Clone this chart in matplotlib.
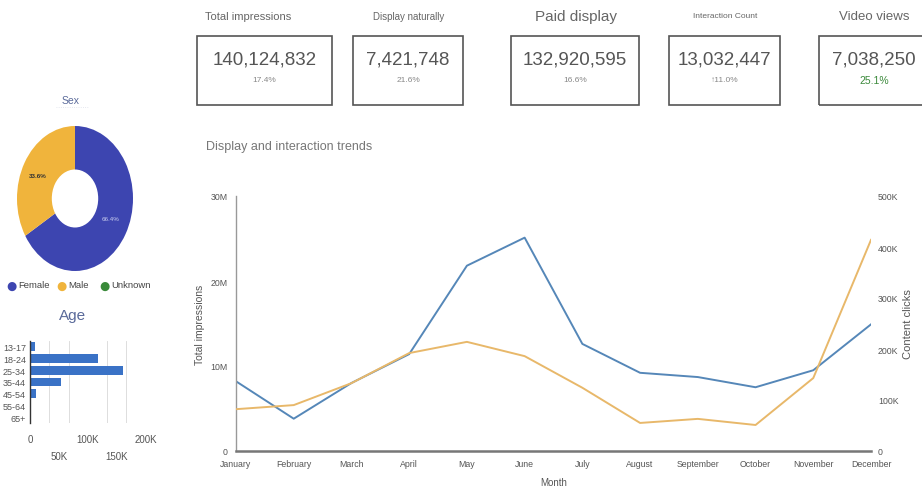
import numpy as np
import matplotlib
matplotlib.use("Agg")
import matplotlib.pyplot as plt
from matplotlib.patches import Rectangle
from matplotlib.ticker import FuncFormatter

plt.rcParams["font.family"] = ["Liberation Sans", "DejaVu Sans"]

# ---- data ----
kpi_titles = ["Total impressions", "Display naturally", "Paid display", "Interaction Count", "Video views"]
kpi_values = [140124832, 7421748, 132920595, 13032447, 7038250]
kpi_changes = [17.4, 21.6, 16.6, 11.0, 25.1]

sex_labels = ["Female", "Male", "Unknown"]
sex_share = [66.4, 33.6, 0.0]

age_groups = ["13-17", "18-24", "25-34", "35-44", "45-54", "55-64", "65+"]
age_counts = [9500, 118000, 161000, 54000, 10500, 2500, 1000]

months = ["January", "February", "March", "April", "May", "June", "July",
          "August", "September", "October", "November", "December"]
total_impressions = [8.2e6, 3.8e6, 8.0e6, 11.4e6, 21.8e6, 25.1e6, 12.6e6,
                     9.2e6, 8.7e6, 7.5e6, 9.5e6, 14.9e6]
content_clicks = [82e3, 90e3, 133e3, 192e3, 214e3, 186e3, 124e3,
                  55e3, 63e3, 51e3, 143e3, 414e3]

# ---- layout helpers (pixel boxes) ----
W, H = 922, 489
fig = plt.figure(figsize=(W / 100, H / 100), dpi=100)
fig.patch.set_facecolor("white")


def box(x0, y0, x1, y1):
    return [x0 / W, 1 - y1 / H, (x1 - x0) / W, (y1 - y0) / H]


def fx(x):
    return x / W


def fy(y):
    return 1 - y / H


GRAY = "#666666"

# ---- KPI cards ----
card_edges = [(197, 332), (353, 463), (511, 639), (669, 780), (819, 930)]
title_x = [248, 409, 576, 725, 874]
title_sizes = [8, 7, 11, 6, 9.5]
change_sizes = [6, 6, 6, 6, 7.5]
change_colors = ["#888888", "#888888", "#888888", "#888888", "#3c8a3c"]
for i, (x0, x1) in enumerate(card_edges):
    fig.add_artist(Rectangle((fx(x0), fy(106)), fx(x1 - x0), (106 - 37) / H,
                             transform=fig.transFigure, fill=False,
                             edgecolor="#555555", linewidth=1.2))
    cx = (x0 + x1) / 2 if i < 4 else 874
    fig.text(fx(title_x[i]), fy(17), kpi_titles[i], ha="center", va="center",
             fontsize=title_sizes[i], color=GRAY)
    fig.text(fx(cx), fy(60), f"{kpi_values[i]:,}", ha="center", va="center",
             fontsize=13.5, color="#555555")
    arrow = "\u2191" if i == 3 else ""
    fig.text(fx(cx), fy(81), f"{arrow}{kpi_changes[i]:.1f}%", ha="center",
             va="center", fontsize=change_sizes[i], color=change_colors[i])

# ---- Sex donut ----
fig.text(fx(71), fy(101), "Sex", ha="center", va="center", fontsize=7.5, color="#5a6a9a")
fig.add_artist(plt.Line2D([fx(56), fx(88)], [fy(108), fy(108)], transform=fig.transFigure,
                          color="#dde0ea", linewidth=0.6, linestyle=":"))
ax_pie = fig.add_axes(box(17, 127, 133, 272))
pie_colors = ["#3d45b0", "#f0b43c", "#3a8a3a"]
wedges, _ = ax_pie.pie(sex_share, colors=pie_colors, startangle=90, counterclock=False,
                       wedgeprops=dict(width=0.6, edgecolor="none"))
ax_pie.set_aspect("auto")
ax_pie.set_xlim(-1, 1)
ax_pie.set_ylim(-1, 1)
ax_pie.text(0.62, -0.28, f"{sex_share[0]:.1f}%", ha="center", va="center",
            fontsize=4.5, color="#c8ccee")
ax_pie.text(-0.65, 0.32, f"{sex_share[1]:.1f}%", ha="center", va="center",
            fontsize=4.5, color="#333333", fontweight="bold")

leg_x = [11, 61, 104]
for x, lab, c in zip(leg_x, sex_labels, pie_colors):
    fig.text(fx(x), fy(286), "\u25cf", ha="center", va="center", fontsize=8.5,
             color=c, family="DejaVu Sans")
    fig.text(fx(x + 7), fy(286), lab, ha="left", va="center", fontsize=6.8, color="#444444")

# ---- Age bars ----
fig.text(fx(73), fy(316), "Age", ha="center", va="center", fontsize=11, color="#5a6a9a")
ax_age = fig.add_axes(box(30, 342, 148, 424))
ypos = np.arange(len(age_groups))
ax_age.barh(ypos, age_counts, height=0.75, color="#3a72c6")
ax_age.set_ylim(len(age_groups) - 0.5, -0.5)
ax_age.set_xlim(0, 204000)
ax_age.set_xticks(np.arange(0, 200001, 200000 / 6), minor=True)
ax_age.grid(True, axis="x", which="minor", color="#d8d8d8", linewidth=0.6)
ax_age.set_axisbelow(True)
ax_age.set_xticks([0, 50000, 100000, 150000, 200000])
ax_age.set_xticklabels(["0", "\n50K", "100K", "\n150K", "200K"])
for lbl in ax_age.get_xticklabels():
    lbl.set_linespacing(1.9)
ax_age.set_yticks(ypos)
ax_age.set_yticklabels(age_groups)
ax_age.tick_params(axis="both", which="both", length=0, labelsize=6.5,
                   labelcolor="#555555", pad=3)
ax_age.tick_params(axis="x", pad=8, labelsize=7)
for s in ["top", "right", "bottom"]:
    ax_age.spines[s].set_visible(False)
ax_age.spines["left"].set_color("#333333")
ax_age.spines["left"].set_linewidth(1.0)

# ---- Trend lines ----
fig.text(fx(206), fy(147), "Display and interaction trends", ha="left", va="center",
         fontsize=9, color="#777777")
ax = fig.add_axes(box(236, 197, 871, 452))
x = np.arange(len(months))
ax.plot(x, total_impressions, color="#5587b8", linewidth=1.4)
ax.set_xlim(0, len(months) - 1)
ax.set_ylim(0, 30e6)
ax.set_yticks([0, 10e6, 20e6, 30e6])
ax.yaxis.set_major_formatter(FuncFormatter(lambda v, p: "0" if v == 0 else f"{v / 1e6:.0f}M"))
ax.set_xticks(x)
ax.set_xticklabels(months)
ax.set_xlabel("Month", fontsize=7, color="#555555", labelpad=6)
ax.set_ylabel("Total impressions", fontsize=7.5, color="#555555", labelpad=4)
ax.tick_params(axis="both", length=0, labelsize=6.3, labelcolor="#555555")
ax.tick_params(axis="x", pad=6)
ax.tick_params(axis="y", pad=6)
for s in ["top", "right"]:
    ax.spines[s].set_visible(False)
ax.spines["left"].set_color("#999999")
ax.spines["left"].set_linewidth(1.0)
ax.spines["bottom"].set_color("#777777")
ax.spines["bottom"].set_linewidth(1.8)

ax2 = ax.twinx()
ax2.plot(x, content_clicks, color="#e8b86a", linewidth=1.4)
ax2.set_ylim(0, 500e3)
ax2.set_yticks(np.arange(0, 500001, 100000))
ax2.yaxis.set_major_formatter(FuncFormatter(lambda v, p: "0" if v == 0 else f"{v / 1e3:.0f}K"))
ax2.set_ylabel("Content clicks", fontsize=8, color="#555555", labelpad=3)
ax2.tick_params(axis="y", length=0, labelsize=6.3, labelcolor="#555555", pad=5)
for s in ["top", "right", "left", "bottom"]:
    ax2.spines[s].set_visible(False)

fig.savefig("out.png", dpi=100, facecolor="white")
